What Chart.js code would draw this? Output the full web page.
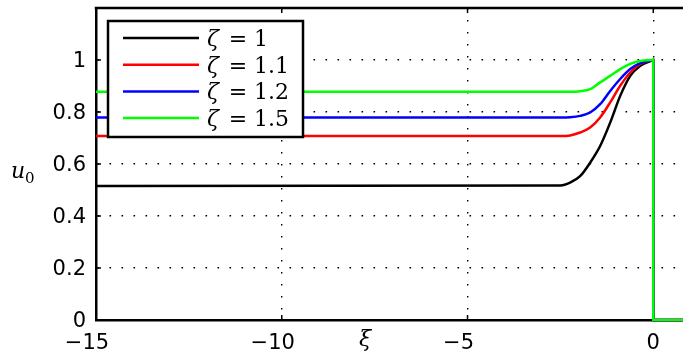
<!DOCTYPE html>
<html>
<head>
<meta charset="utf-8">
<script src="https://cdn.jsdelivr.net/npm/chart.js@4"></script>
<style>
  body { margin: 0; background: #fff; }
  canvas { display: block; }
</style>
</head>
<body>
<canvas id="profileChart" width="683" height="358"></canvas>
<script>
// values: u0 against xi for four values of zeta
const xi = [-15, -2.5, -2.24, -1.97, -1.70, -1.43, -1.16, -0.89, -0.62, -0.35, -0.08, 0, 0, 0.8];
const u0Zeta1  = [0.515, 0.517, 0.528, 0.553, 0.605, 0.669, 0.759, 0.862, 0.939, 0.978, 0.996, 1, 0, 0];
const u0Zeta11 = [0.708, 0.708, 0.710, 0.721, 0.740, 0.779, 0.837, 0.901, 0.952, 0.985, 0.998, 1, 0, 0];
const u0Zeta12 = [0.779, 0.779, 0.780, 0.785, 0.798, 0.830, 0.881, 0.927, 0.965, 0.988, 0.998, 1, 0, 0];
const u0Zeta15 = [0.878, 0.878, 0.878, 0.880, 0.888, 0.914, 0.939, 0.965, 0.985, 0.996, 1.0, 1, 0, 0];
const zetaLabels = ['1', '1.1', '1.2', '1.5'];
const xTicks = [-15, -10, -5, 0];
const yTicks = [0, 0.2, 0.4, 0.6, 0.8, 1, 1.2];

const lineColors = ['#000000', '#ff0000', '#0000ff', '#00ff00'];
const seriesList = [u0Zeta1, u0Zeta11, u0Zeta12, u0Zeta15];

const sansFont = '21px "DejaVu Sans"';
const mathItalic = 'italic 22px "DejaVu Serif"';
const mathRoman = '22px "DejaVu Serif"';

// box top edge + inward tick marks, matlab style
const framePlugin = {
    id: 'frame',
    beforeDatasetsDraw(chart) {
        const { ctx, chartArea: a, scales } = chart;
        ctx.save();
        ctx.strokeStyle = '#000';
        ctx.lineWidth = 2.5;
        ctx.beginPath();
        ctx.moveTo(a.left - 1.25, a.top);
        ctx.lineTo(a.right, a.top);
        ctx.stroke();

        ctx.lineWidth = 1.5;
        ctx.beginPath();
        xTicks.forEach(v => {
            const px = scales.x.getPixelForValue(v);
            ctx.moveTo(px, a.bottom);
            ctx.lineTo(px, a.bottom - 5);
            ctx.moveTo(px, a.top);
            ctx.lineTo(px, a.top + 5);
        });
        yTicks.forEach(v => {
            const py = scales.y.getPixelForValue(v);
            ctx.moveTo(a.left, py);
            ctx.lineTo(a.left + 5, py);
        });
        ctx.stroke();
        ctx.restore();
    }
};

const legendBox = {
    id: 'legendBox',
    afterDatasetsDraw(chart) {
        const { ctx, chartArea: a } = chart;
        const left = a.left + 12;
        const top = a.top + 13;
        const w = 195;
        const h = 116;
        ctx.save();
        ctx.fillStyle = '#fff';
        ctx.fillRect(left, top, w, h);
        ctx.strokeStyle = '#000';
        ctx.lineWidth = 2.5;
        ctx.strokeRect(left, top, w, h);

        chart.data.datasets.forEach((ds, i) => {
            const y = top + 17 + i * 26.7;
            ctx.strokeStyle = ds.borderColor;
            ctx.lineWidth = 2.5;
            ctx.beginPath();
            ctx.moveTo(left + 15, y);
            ctx.lineTo(left + 91, y);
            ctx.stroke();

            ctx.fillStyle = '#000';
            ctx.textBaseline = 'alphabetic';
            ctx.textAlign = 'left';
            ctx.font = mathItalic;
            ctx.fillText('\u03b6', left + 99, y + 8);
            ctx.textAlign = 'center';
            ctx.font = mathRoman;
            ctx.fillText('=', left + 130, y + 8);
            ctx.textAlign = 'left';
            ctx.fillText(zetaLabels[i], left + 146, y + 8);
        });
        ctx.restore();
    }
};

const axisText = {
    id: 'axisText',
    afterDraw(chart) {
        const { ctx, chartArea: a, scales } = chart;
        ctx.save();
        ctx.fillStyle = '#000';
        ctx.textBaseline = 'alphabetic';

        // x tick labels, minus sign labels sit a little left
        ctx.font = sansFont;
        ctx.textAlign = 'center';
        xTicks.forEach(v => {
            const px = scales.x.getPixelForValue(v);
            const label = v < 0 ? '\u2212' + Math.abs(v) : String(v);
            ctx.fillText(label, v < 0 ? px - 9 : px, a.bottom + 29);
        });

        // axis titles
        ctx.font = mathItalic;
        ctx.fillText('\u03be', 365, a.bottom + 26);
        ctx.textAlign = 'left';
        ctx.fillText('u', 11, 178);
        ctx.font = '15px "DejaVu Serif"';
        ctx.fillText('0', 25, 183);
        ctx.restore();
    }
};

const ctx = document.getElementById('profileChart').getContext('2d');
new Chart(ctx, {
    type: 'line',
    data: {
        datasets: seriesList.map((vals, i) => ({
            label: '\u03b6 = ' + zetaLabels[i],
            data: xi.map((x, k) => ({ x: x, y: vals[k] })),
            borderColor: lineColors[i],
            borderWidth: 2.5,
            pointRadius: 0,
            cubicInterpolationMode: 'monotone',
            fill: false,
            clip: 4,
            order: seriesList.length - i
        }))
    },
    options: {
        responsive: false,
        animation: false,
        devicePixelRatio: 1,
        layout: { padding: { top: 8, right: 0, left: 0, bottom: 0 } },
        plugins: {
            legend: { display: false },
            tooltip: { enabled: false }
        },
        scales: {
            x: {
                type: 'linear',
                min: -15,
                max: 0.8,
                afterBuildTicks: s => { s.ticks = xTicks.map(v => ({ value: v })); },
                afterFit: s => {
                    s.height = 38;
                    s.paddingLeft = 0;
                    s.paddingRight = 0;
                },
                grid: { color: '#000', lineWidth: 1.4, drawTicks: false },
                border: { color: '#000', width: 2.5, dash: [1.6, 10.4] },
                ticks: { display: false }
            },
            y: {
                min: 0,
                max: 1.2,
                afterBuildTicks: s => { s.ticks = yTicks.map(v => ({ value: v })); },
                afterFit: s => {
                    s.width = 96;
                    s.paddingTop = 0;
                    s.paddingBottom = 0;
                },
                grid: { color: '#000', lineWidth: 1.4, drawTicks: false },
                border: { color: '#000', width: 2.5, dash: [1.6, 10.4] },
                ticks: {
                    color: '#000',
                    padding: 10,
                    labelOffset: 2,
                    font: { family: 'DejaVu Sans', size: 21 },
                    callback: v => (v === 1.2 ? '' : String(v))
                }
            }
        }
    },
    plugins: [framePlugin, legendBox, axisText]
});
</script>
</body>
</html>
